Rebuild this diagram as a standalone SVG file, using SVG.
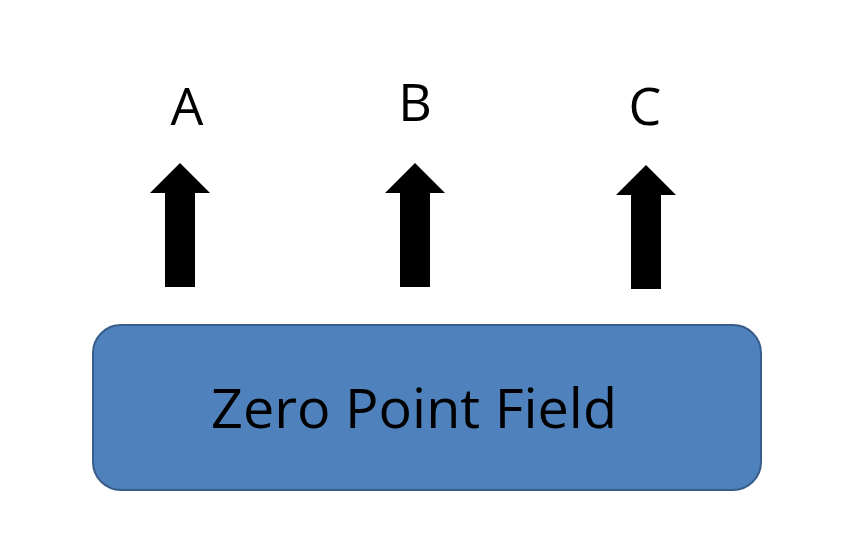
<svg xmlns="http://www.w3.org/2000/svg" width="848" height="551" viewBox="0 0 848 551">
<style>
.lbl{font-family:"Open Sans","Liberation Sans",sans-serif;fill:#000;text-anchor:middle}
.arr{fill:#000}
</style>
<defs>
<path id="arrow" d="M0,0 L30,30 L15,30 L15,124 L-15,124 L-15,30 L-30,30 Z"/>
</defs>
<rect width="848" height="551" fill="#fff"/>
<g id="labels">
<text class="lbl" x="187" y="125" font-size="52">A</text>
<text class="lbl" x="415" y="121" font-size="52">B</text>
<text class="lbl" x="645" y="125" font-size="52">C</text>
</g>
<g id="connectors">
<use href="#arrow" class="arr" x="180" y="163"/>
<use href="#arrow" class="arr" x="415" y="163"/>
<use href="#arrow" class="arr" x="646" y="165"/>
</g>
<g id="zero-point-field">
<rect x="93" y="325" width="668" height="165" rx="28" fill="#4f81bd" stroke="#385d8a" stroke-width="2"/>
<text class="lbl" x="414" y="428" font-size="54" textLength="406" lengthAdjust="spacingAndGlyphs">Zero Point Field</text>
</g>
</svg>
